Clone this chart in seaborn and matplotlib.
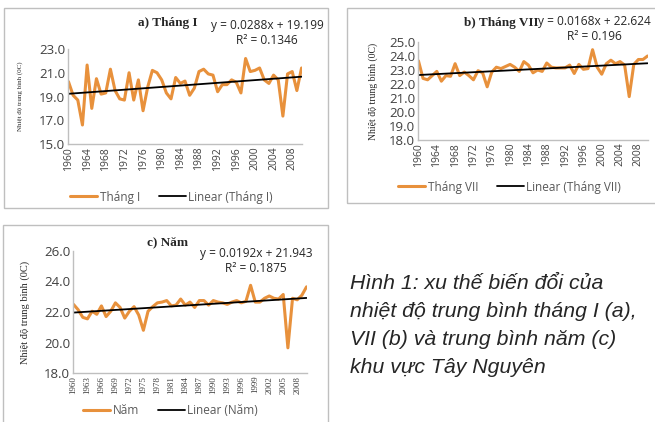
import numpy as np
import pandas as pd
import seaborn as sns
import matplotlib.pyplot as plt
from matplotlib.patches import Rectangle

years = list(range(1960, 2011))

thang_1 = [20.25, 19.1, 18.7, 16.6, 21.65, 18.0, 20.5, 19.2, 19.3, 21.3,
           19.5, 18.8, 18.7, 21.0, 18.7, 20.4, 17.8, 19.8, 21.2, 21.0,
           20.4, 19.3, 18.8, 20.6, 20.1, 20.3, 19.1, 19.7, 21.1, 21.3,
           20.9, 20.8, 19.4, 20.0, 20.0, 20.4, 20.2, 19.3, 22.2, 21.1,
           21.2, 21.4, 20.4, 20.1, 20.8, 20.4, 17.35, 20.9, 21.1, 19.5,
           21.4]
thang_7 = [23.65, 22.4, 22.3, 22.6, 22.9, 22.2, 22.6, 22.55, 23.45, 22.6,
           22.85, 22.6, 22.3, 22.95, 22.8, 21.8, 22.85, 23.2, 23.1, 23.25,
           23.4, 23.2, 22.9, 23.6, 23.35, 22.8, 23.0, 22.9, 23.5, 23.2,
           23.15, 23.15, 23.15, 23.35, 22.75, 23.4, 23.05, 23.1, 24.45, 23.2,
           22.7, 23.45, 23.7, 23.45, 23.6, 23.35, 21.1, 23.4, 23.75, 23.75,
           24.0]
nam = [22.5, 22.15, 21.65, 21.55, 22.05, 21.85, 22.4, 21.7, 22.05, 22.6,
       22.3, 21.6, 22.05, 22.35, 21.8, 20.8, 22.05, 22.35, 22.6, 22.65,
       22.75, 22.4, 22.45, 22.85, 22.45, 22.65, 22.3, 22.75, 22.75, 22.45,
       22.75, 22.65, 22.6, 22.5, 22.65, 22.75, 22.6, 22.7, 23.75, 22.65,
       22.65, 22.9, 23.05, 22.9, 22.85, 23.15, 19.65, 22.9, 22.8, 23.1,
       23.65]

# trend coefficients printed on the chart (x = 1..51)
slopes = [0.0288, 0.0168, 0.0192]
intercepts = [19.199, 22.624, 21.943]
r2_labels = ["0.1346", "0.196", "0.1875"]

titles = ["a) Tháng I", "b) Tháng VII", "c) Năm"]
names = ["Tháng I", "Tháng VII", "Năm"]
ylims = [(15, 23), (18, 25), (18, 26)]
ysteps = [2, 1, 2]
xsteps = [4, 4, 3]
ylabel = "Nhiệt độ trung bình (0C)"
caption = ("Hình 1: xu thế biến đổi của\nnhiệt độ trung bình tháng I (a),\n"
           "VII (b) và trung bình năm (c)\nkhu vực Tây Nguyên")

sns.set_theme(style="white")
plt.rcParams['font.family'] = ['Open Sans', 'DejaVu Sans']

W, H = 655, 422
fig = plt.figure(figsize=(W / 100, H / 100), dpi=100)

def fx(px):
    return px / W

def fy(py):
    return 1 - py / H

# pixel layouts: frame box, axes box, title, equation centre, legend, ylabel x
layouts = [
    dict(frame=(4, 8, 328, 208), ax=(68, 49, 302, 144), title=(168, 23),
         eq=(267, 33), leg=(70, 197), ylab=20, ylab_fs=5.0),
    dict(frame=(347, 8, 660, 203), ax=(418, 42, 648, 140), title=(501, 23),
         eq=(594, 29), leg=(398, 187), ylab=373, ylab_fs=7.0),
    dict(frame=(3, 225, 328, 430), ax=(73, 251, 307, 373), title=(168, 242),
         eq=(256, 261), leg=(83, 411), ylab=25, ylab_fs=7.5),
]

series = [thang_1, thang_7, nam]
orange = "#E8913C"

for i, lay in enumerate(layouts):
    x0, y0, x1, y1 = lay["frame"]
    fig.patches.append(Rectangle((fx(x0), fy(y1)), fx(x1 - x0), fy(y0) - fy(y1),
                                 transform=fig.transFigure, fill=False,
                                 edgecolor="#BFBFBF", linewidth=1.0))
    a0, b0, a1, b1 = lay["ax"]
    ax = fig.add_axes([fx(a0), fy(b1), fx(a1 - a0), fy(b0) - fy(b1)])

    df = pd.DataFrame({"year": years, "temp": series[i]})
    df["trend"] = slopes[i] * (df["year"] - 1959) + intercepts[i]

    sns.lineplot(data=df, x="year", y="temp", ax=ax, color=orange, linewidth=2.2,
                 label=names[i])
    sns.lineplot(data=df, x="year", y="trend", ax=ax, color="black", linewidth=1.3,
                 label="Linear (" + names[i] + ")")

    ax.set_xlim(1959.9, 2010.1)
    ax.set_ylim(*ylims[i])
    ax.set_yticks(np.arange(ylims[i][0], ylims[i][1] + 0.01, ysteps[i]))
    ax.set_yticklabels([f"{v:.1f}" for v in ax.get_yticks()], fontsize=9.5,
                       color="#404040")
    xt = list(range(1960, 2011, xsteps[i]))
    ax.set_xticks(xt)
    if i == 2:
        ax.set_xticklabels([str(t) for t in xt], rotation=90, fontsize=6.5,
                           family="Liberation Serif", color="#404040")
    else:
        ax.set_xticklabels([str(t) for t in xt], rotation=90, fontsize=7.5,
                           color="#404040")
    ax.tick_params(axis="both", length=0, pad=2)
    ax.set_xlabel("")
    ax.set_ylabel("")
    for s in ["top", "right"]:
        ax.spines[s].set_visible(False)
    for s in ["left", "bottom"]:
        ax.spines[s].set_color("#BFBFBF")
        ax.spines[s].set_linewidth(1.0)
    ax.set_facecolor("none")

    handles, labels = ax.get_legend_handles_labels()
    ax.legend_.remove()
    lx, ly = lay["leg"]
    fig.legend(handles, labels, loc="center left", bbox_to_anchor=(fx(lx), fy(ly)),
               ncol=2, frameon=False, fontsize=8.5, handlelength=2.3,
               columnspacing=1.6, handletextpad=0.2, borderpad=0, borderaxespad=0,
               labelcolor="#595959")

    tx, ty = lay["title"]
    fig.text(fx(tx), fy(ty), titles[i], ha="center", va="center", fontsize=9.5,
             fontweight="bold", family="Liberation Serif")
    ex, ey = lay["eq"]
    fig.text(fx(ex), fy(ey), f"y = {slopes[i]}x + {intercepts[i]}\nR² = {r2_labels[i]}",
             ha="center", va="center", fontsize=8.6, linespacing=1.2, color="#262626")
    fig.text(fx(lay["ylab"]), fy((b0 + b1) / 2), ylabel, rotation=90, ha="center",
             va="center", fontsize=lay["ylab_fs"], family="Liberation Serif",
             color="#262626")

fig.text(fx(350), fy(274), caption, ha="left", va="top", fontsize=15.3,
         style="italic", family="Liberation Sans", linespacing=1.6, color="#262626")

fig.savefig("out.png", dpi=100)
